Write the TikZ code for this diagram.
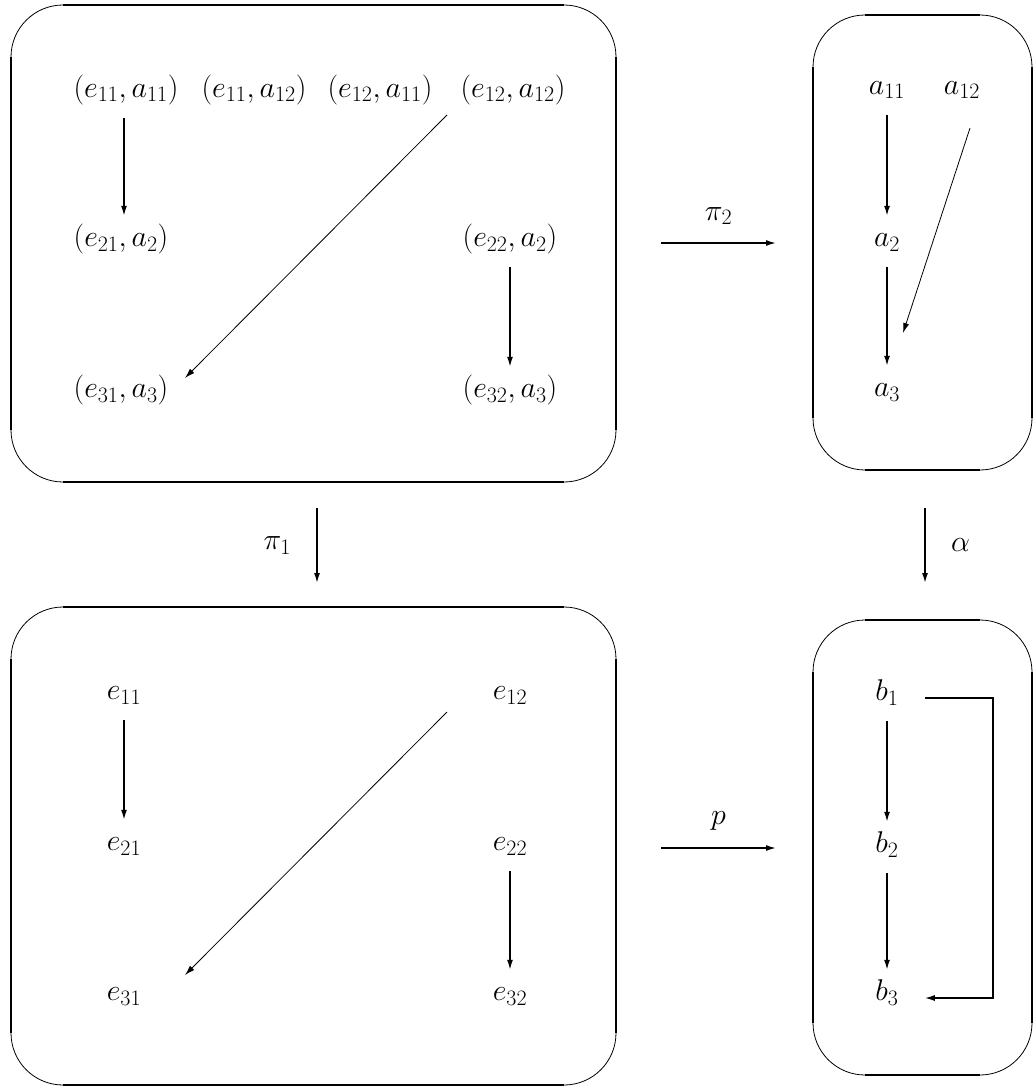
\RequirePackage{fix-cm}
\documentclass[tikz,border=0pt]{standalone}
\usetikzlibrary{arrows.meta}
\DeclareMathSizes{30}{30}{22}{16}
\newcommand{\myroundbox}[4]{%
  \draw[arcline, rounded corners=52pt] (#1,#2) rectangle (#3,#4);
  \draw[boxedge] (#1+52,#2) -- (#3-52,#2);
  \draw[boxedge] (#1+52,#4) -- (#3-52,#4);
  \draw[boxedge] (#1,#2+52) -- (#1,#4-52);
  \draw[boxedge] (#3,#2+52) -- (#3,#4-52);}
\begin{document}
\begin{tikzpicture}[x=1pt,y=-1pt,
  every node/.style={font=\fontsize{30}{36}\selectfont},
  lb/.style={inner sep=0pt, text height=0.75em, text depth=0.25em},
  arr/.style={-{Latex[length=10pt,width=6pt]}, line width=1.5pt},
  darr/.style={-{Latex[length=10pt,width=6pt]}, line width=0.8pt},
  vshort/.style={shorten <=18pt, shorten >=23pt},
  arcline/.style={line width=0.8pt},
  boxedge/.style={line width=2.8pt}]
\useasboundingbox (0,0) rectangle (1034,1086);
% boxes
\myroundbox{11}{5}{616}{482}
\myroundbox{813}{15}{1032}{470}
\myroundbox{11}{607}{616}{1085}
\myroundbox{813}{620}{1032}{1075}
% top-left nodes
\node[lb] (ta) at (126,95) {$(e_{11},a_{11})$};
\node[lb] (tb) at (254,95) {$(e_{11},a_{12})$};
\node[lb] (tc) at (380,95) {$(e_{12},a_{11})$};
\node[lb] (td) at (513,95) {$(e_{12},a_{12})$};
\node[lb] (te) at (121,244) {$(e_{21},a_{2})$};
\node[lb] (tf) at (510,244) {$(e_{22},a_{2})$};
\node[lb] (tg) at (121,395) {$(e_{31},a_{3})$};
\node[lb] (th) at (510,395) {$(e_{32},a_{3})$};
\draw[arr, vshort] ([xshift=-2pt]ta.south) -- ([xshift=3pt]te.north);
\draw[arr, vshort] (tf.south) -- (th.north);
\draw[darr] ([shift={(-66,20)}]td.center) -- ([shift={(64,-17)}]tg.center);
% top-right nodes
\node[lb] (ra) at (887,92) {$a_{11}$};
\node[lb] (rb) at (962,92) {$a_{12}$};
\node[lb] (rc) at (887,244) {$a_{2}$};
\node[lb] (rd) at (887,394) {$a_{3}$};
\draw[arr, vshort] (ra.south) -- (rc.north);
\draw[arr, vshort] (rc.south) -- (rd.north);
\draw[darr] ([shift={(8,36)}]rb.center) -- ([shift={(16,-61)}]rd.center);
% bottom-left nodes
\node[lb] (ba) at (124,697) {$e_{11}$};
\node[lb] (bb) at (510,697) {$e_{12}$};
\node[lb] (bc) at (124,848) {$e_{21}$};
\node[lb] (bd) at (510,848) {$e_{22}$};
\node[lb] (be) at (124,998) {$e_{31}$};
\node[lb] (bf) at (510,998) {$e_{32}$};
\draw[arr, vshort] (ba.south) -- (bc.north);
\draw[arr, vshort] (bd.south) -- (bf.north);
\draw[darr] ([shift={(-63,15)}]bb.center) -- ([shift={(61,-23)}]be.center);
% bottom-right nodes
\node[lb] (qa) at (887,698) {$b_{1}$};
\node[lb] (qb) at (887,850) {$b_{2}$};
\node[lb] (qc) at (887,998) {$b_{3}$};
\draw[arr, vshort] (qa.south) -- (qb.north);
\draw[arr, vshort] (qb.south) -- (qc.north);
\coordinate (loopx) at (993,0);
\draw[arr, shorten <=26pt, shorten >=26pt] (qa.east) -- (qa.east -| loopx) -- (qc.east -| loopx) -- (qc.east);
% maps between boxes
\coordinate (pi2s) at (661,243);
\coordinate (pi2e) at (776,243);
\draw[arr] (pi2s) -- node[above=14pt] {$\pi_2$} (pi2e);
\coordinate (ps) at (661,848);
\coordinate (pe) at (776,848);
\draw[arr] (ps) -- node[above=14pt] {$p$} (pe);
\coordinate (pi1s) at (317,508);
\coordinate (pi1e) at (317,583);
\draw[arr] (pi1s) -- node[left=22pt] {$\pi_1$} (pi1e);
\coordinate (als) at (925,508);
\coordinate (ale) at (925,583);
\draw[arr] (als) -- node[right=22pt] {$\alpha$} (ale);
\end{tikzpicture}
\end{document}
